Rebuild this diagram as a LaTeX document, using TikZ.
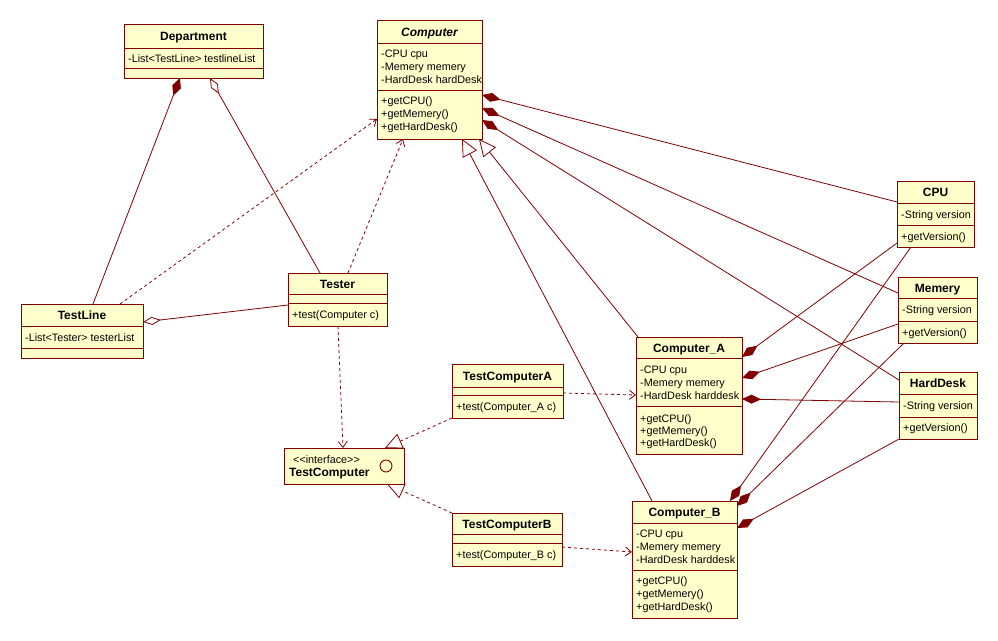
\documentclass[tikz,border=0pt]{standalone}
\usepackage{fontspec}
\setmainfont{Liberation Sans}
\usetikzlibrary{arrows.meta,calc}
\pgfdeclarelayer{bg}
\pgfsetlayers{bg,main}
\definecolor{umlline}{RGB}{128,0,0}
\definecolor{umlfill}{RGB}{255,255,204}
\newcommand{\umlclass}[8]{%
  \node[cls, minimum width=#4pt, minimum height=#7pt, anchor=north west] (#1) at (#2,#3) {};
  \draw[uml] ($(#1.north west)+(0,#5)$) -- ($(#1.north east)+(0,#5)$);
  \draw[uml] ($(#1.north west)+(0,#6)$) -- ($(#1.north east)+(0,#6)$);
  \node[ttl] (#1t) at ($(#1.north)+(0,#5/2+4.5)$) {#8};
}
\newcommand{\umlline}[4]{%
  \node[mem] (#1) at ($(#2.north west)+(4,#3+4)$) {#4};
}
\begin{document}
\begin{tikzpicture}[x=1pt,y=-1pt,
  uml/.style={draw=umlline, line width=0.9pt},
  cls/.style={draw=umlline, fill=umlfill, line width=0.9pt, inner sep=0pt, outer sep=0pt},
  ttl/.style={font=\fontsize{12}{14}\selectfont\bfseries, inner sep=0pt, anchor=base},
  mem/.style={font=\fontsize{10.8}{13}\selectfont, inner sep=0pt, anchor=base west},
  assoc/.style={draw=umlline, line width=0.8pt},
  compo/.style={assoc, -{Diamond[length=19pt,width=9pt,fill=umlline]}},
  aggr/.style={assoc, -{Diamond[open,length=18pt,width=8pt,fill=white]}},
  gen/.style={assoc, -{Triangle[open,length=17pt,width=16pt,fill=white]}},
  real/.style={assoc, dash pattern=on 3pt off 3pt, -{Triangle[open,length=17pt,width=16pt,fill=white]}},
  dep/.style={assoc, dash pattern=on 3pt off 3pt, -{Straight Barb[length=6pt,width=9pt]}},
]
\useasboundingbox (0,0) rectangle (998,640);

% ---------- classes ----------
\umlclass{dept}{124}{24}{139}{24}{44}{54}{Department}
\umlline{deptA}{dept}{34}{-List<TestLine> testlineList}

\umlclass{comp}{377}{20}{105}{23}{70}{119}{\itshape Computer}
\umlline{compA1}{comp}{33}{-CPU cpu}
\umlline{compA2}{comp}{46}{-Memery memery}
\umlline{compA3}{comp}{59}{-HardDesk hardDesk}
\umlline{compM1}{comp}{80}{+getCPU()}
\umlline{compM2}{comp}{93}{+getMemery()}
\umlline{compM3}{comp}{106}{+getHardDesk()}

\umlclass{cpu}{897}{181}{77}{22}{44}{66}{CPU}
\umlline{cpuA}{cpu}{33}{-String version}
\umlline{cpuM}{cpu}{55}{+getVersion()}

\umlclass{mem}{898}{277}{79}{21}{44}{66}{Memery}
\umlline{memA}{mem}{32}{-String version}
\umlline{memM}{mem}{55}{+getVersion()}

\umlclass{hd}{899}{372}{78}{22}{45}{67}{HardDesk}
\umlline{hdA}{hd}{33}{-String version}
\umlline{hdM}{hd}{55}{+getVersion()}

\umlclass{tl}{21}{304}{122}{22}{44}{54}{TestLine}
\umlline{tlA}{tl}{33}{-List<Tester> testerList}

\umlclass{tester}{288}{273}{99}{21}{30}{53}{Tester}
\umlline{testerM}{tester}{41}{+test(Computer c)}

\umlclass{tca}{452}{364}{111}{23}{31}{54}{TestComputerA}
\umlline{tcaM}{tca}{42}{+test(Computer\_A c)}

\umlclass{tcb}{452}{513}{110}{21}{30}{53}{TestComputerB}
\umlline{tcbM}{tcb}{41}{+test(Computer\_B c)}

\umlclass{ca}{636}{337}{106}{21}{69}{117}{Computer\_A}
\umlline{caA1}{ca}{32}{-CPU cpu}
\umlline{caA2}{ca}{45}{-Memery memery}
\umlline{caA3}{ca}{58}{-HardDesk harddesk}
\umlline{caM1}{ca}{81}{+getCPU()}
\umlline{caM2}{ca}{93}{+getMemery()}
\umlline{caM3}{ca}{105}{+getHardDesk()}

\umlclass{cb}{632}{501}{105}{22}{69}{117}{Computer\_B}
\umlline{cbA1}{cb}{32}{-CPU cpu}
\umlline{cbA2}{cb}{45}{-Memery memery}
\umlline{cbA3}{cb}{58}{-HardDesk harddesk}
\umlline{cbM1}{cb}{79}{+getCPU()}
\umlline{cbM2}{cb}{92}{+getMemery()}
\umlline{cbM3}{cb}{105}{+getHardDesk()}

% interface
\node[cls, minimum width=120pt, minimum height=36pt, anchor=north west] (itf) at (284,448) {};
\node[mem] (itfS) at ($(itf.north west)+(9,15)$) {<\kern0pt<interface>\kern0pt>};
\node[ttl, anchor=base west] (itfT) at ($(itf.north west)+(5,28.5)$) {TestComputer};
\node[draw=umlline, circle, minimum size=12pt, inner sep=0pt, line width=0.9pt] (itfC) at ($(itf.north west)+(102,18)$) {};

% ---------- connectors ----------
\begin{pgfonlayer}{bg}
\fill[white] (0,0) rectangle (998,640);
\draw[compo] ($(tl.north west)+(72,0)$) -- ($(dept.south west)+(56,0)$);
\draw[aggr] ($(tester.north west)+(32,0)$) -- ($(dept.south west)+(86,0)$);
\draw[dep] ($(tl.north west)+(99,0)$) -- ($(comp.north west)+(0,99)$);
\draw[dep] ($(tester.north west)+(60,0)$) -- ($(comp.south west)+(26,0)$);
\draw[aggr] ($(tester.north west)+(0,32)$) -- ($(tl.north east)+(0,18)$);
\draw[dep] ($(tester.south west)+(50,0)$) -- ($(itf.north west)+(59,0)$);
\draw[real] (tca.south west) -- ($(itf.north west)+(101,0)$);
\draw[real] (tcb.north west) -- ($(itf.south west)+(103,0)$);
\draw[dep] ($(tca.north east)+(0,29)$) -- ($(ca.north west)+(0,58)$);
\draw[dep] ($(tcb.north east)+(0,34)$) -- ($(cb.north west)+(0,51)$);
\draw[gen] ($(ca.north west)+(2,0)$) -- ($(comp.south west)+(102,0)$);
\draw[gen] ($(cb.north west)+(20,0)$) -- ($(comp.south west)+(85,0)$);
% compositions to Computer
\draw[compo] ($(cpu.north west)+(0,21)$) -- ($(comp.north east)+(0,75)$);
\draw[compo] ($(mem.north west)+(0,16)$) -- ($(comp.north east)+(0,88)$);
\draw[compo] ($(hd.north west)+(0,8)$) -- ($(comp.north east)+(0,100)$);
% compositions to Computer_A
\draw[compo] ($(cpu.south west)+(0,-4)$) -- ($(ca.north east)+(0,20)$);
\draw[compo] ($(mem.north west)+(0,47)$) -- ($(ca.north east)+(0,41)$);
\draw[compo] ($(hd.north west)+(0,30)$) -- ($(ca.north east)+(0,62)$);
% compositions to Computer_B
\draw[compo] ($(cpu.south west)+(14,0)$) -- ($(cb.north west)+(98,0)$);
\draw[compo] ($(mem.south west)+(6,0)$) -- ($(cb.north east)+(0,5)$);
\draw[compo] (hd.south west) -- ($(cb.north east)+(0,27)$);
\end{pgfonlayer}
\end{tikzpicture}
\end{document}
